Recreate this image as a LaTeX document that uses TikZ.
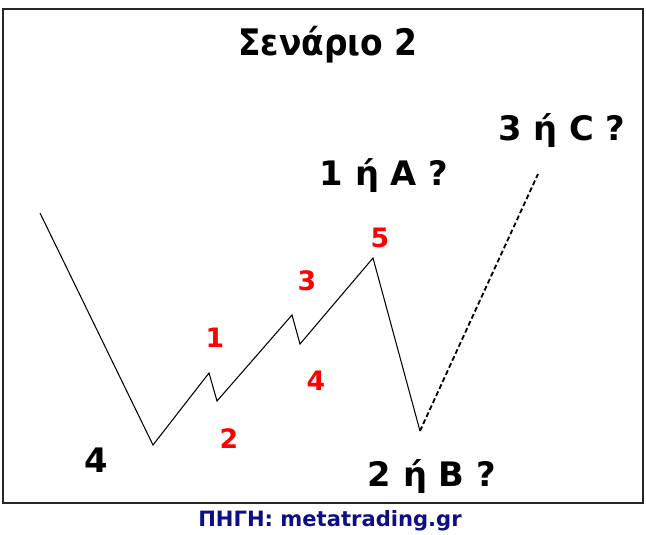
\documentclass[tikz,border=0pt]{standalone}
\usepackage{fontspec}
\setmainfont{DejaVu Sans}
\newfontfamily\condfont{DejaVu Sans Condensed}
\usepackage{xcolor}
\definecolor{wavec}{HTML}{000000}
\definecolor{countc}{HTML}{FF0000}
\definecolor{sourcec}{HTML}{0E0E86}
\tikzset{
  frame/.style={draw=black!85, line width=1.4pt},
  wave/.style={draw=wavec, line width=0.75pt, line join=miter},
  guess/.style={draw=wavec, line width=1.3pt, dash pattern=on 3.5pt off 2pt},
  bigtag/.style={font=\bfseries\fontsize{24}{26}\selectfont, inner sep=0pt},
  count/.style={text=countc, font=\bfseries\fontsize{19}{21}\selectfont, inner sep=0pt},
}

\begin{document}
\begin{tikzpicture}[x=0.025cm, y=-0.025cm]
\useasboundingbox (0,0) rectangle (646,534);
\draw[frame] (3,9) rectangle (643,503);
\node[font=\condfont\bfseries\fontsize{26}{30}\selectfont, inner sep=0pt] (title) at (328,45) {Σενάριο 2};
% wave points
\coordinate (w0) at (40,213);
\coordinate (w4) at (153,445);
\coordinate (p1) at (209,373);
\coordinate (p2) at (217,401);
\coordinate (p3) at (292,315);
\coordinate (p4) at (300,344);
\coordinate (p5) at (373,258);
\coordinate (pB) at (420,431);
\coordinate (pC) at (538,174);
\draw[wave] (w0) -- (w4) -- (p1) -- (p2) -- (p3) -- (p4) -- (p5) -- (pB);
\draw[guess] (pB) -- (pC);
% labels
\node[bigtag] (tagA) at (384,176) {1 ή A ?};
\node[bigtag] (tagC) at (562,131) {3 ή C ?};
\node[bigtag] (tagB) at (432,477) {2 ή B ?};
\node[bigtag] (tag4) at (96,460) {4};
\node[count] (c1) at (215,338) {1};
\node[count] (c2) at (229,439) {2};
\node[count] (c3) at (307,281) {3};
\node[count] (c4) at (316,381) {4};
\node[count] (c5) at (380,238) {5};
\node[text=sourcec, font=\bfseries\fontsize{15}{17}\selectfont, inner sep=0pt] (src) at (330,521) {ΠΗΓΗ: metatrading.gr};
\end{tikzpicture}
\end{document}
